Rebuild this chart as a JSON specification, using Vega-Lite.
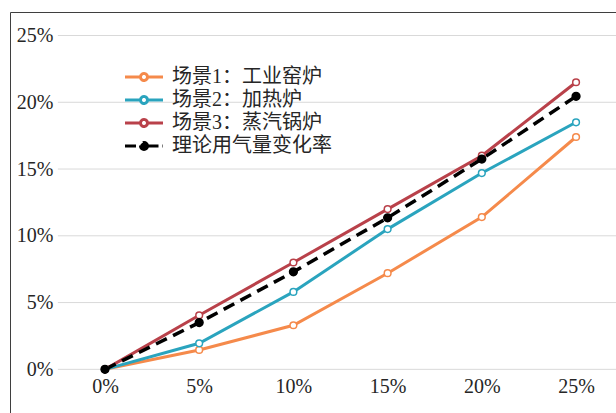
{
  "$schema": "https://vega.github.io/schema/vega-lite/v6.json",
  "width": 606,
  "height": 401,
  "autosize": {"type": "none"},
  "padding": {"left": 10, "top": 12, "right": 0, "bottom": 0},
  "background": "white",
  "config": {
    "view": {"stroke": "#3f3f3f", "strokeWidth": 1},
    "font": "'Liberation Serif', 'Noto Sans CJK SC', serif"
  },
  "datasets": {
    "series": [
      {"x": 0, "y": 0, "s": "场景1：工业窑炉"},
      {"x": 5, "y": 1.45, "s": "场景1：工业窑炉"},
      {"x": 10, "y": 3.3, "s": "场景1：工业窑炉"},
      {"x": 15, "y": 7.2, "s": "场景1：工业窑炉"},
      {"x": 20, "y": 11.4, "s": "场景1：工业窑炉"},
      {"x": 25, "y": 17.4, "s": "场景1：工业窑炉"},
      {"x": 0, "y": 0, "s": "场景2：加热炉"},
      {"x": 5, "y": 1.95, "s": "场景2：加热炉"},
      {"x": 10, "y": 5.8, "s": "场景2：加热炉"},
      {"x": 15, "y": 10.5, "s": "场景2：加热炉"},
      {"x": 20, "y": 14.7, "s": "场景2：加热炉"},
      {"x": 25, "y": 18.5, "s": "场景2：加热炉"},
      {"x": 0, "y": 0, "s": "场景3：蒸汽锅炉"},
      {"x": 5, "y": 4.05, "s": "场景3：蒸汽锅炉"},
      {"x": 10, "y": 8.0, "s": "场景3：蒸汽锅炉"},
      {"x": 15, "y": 12.0, "s": "场景3：蒸汽锅炉"},
      {"x": 20, "y": 16.0, "s": "场景3：蒸汽锅炉"},
      {"x": 25, "y": 21.5, "s": "场景3：蒸汽锅炉"},
      {"x": 0, "y": 0, "s": "理论用气量变化率"},
      {"x": 5, "y": 3.5, "s": "理论用气量变化率"},
      {"x": 10, "y": 7.3, "s": "理论用气量变化率"},
      {"x": 15, "y": 11.35, "s": "理论用气量变化率"},
      {"x": 20, "y": 15.75, "s": "理论用气量变化率"},
      {"x": 25, "y": 20.45, "s": "理论用气量变化率"}
    ],
    "grid": [{"g": 0}, {"g": 5}, {"g": 10}, {"g": 15}, {"g": 20}, {"g": 25}]
  },
  "layer": [
    {
      "data": {"name": "grid"},
      "mark": {"type": "rule", "color": "#d9d9d9", "strokeWidth": 1},
      "encoding": {
        "y": {
          "field": "g", "type": "quantitative",
          "scale": {"domain": [-3.27, 26.76], "nice": false, "zero": false},
          "axis": {
            "values": [0, 5, 10, 15, 20, 25],
            "labelExpr": "datum.value + '%'",
            "domain": false, "ticks": false, "tickSize": 0, "grid": false,
            "labelPadding": -43, "labelFontSize": 20, "labelColor": "#262626",
            "labelFont": "'Liberation Serif', 'Times New Roman', serif", "title": null
          }
        },
        "x": {
          "datum": -2.5, "type": "quantitative",
          "scale": {"domain": [-5.04, 27.12], "nice": false, "zero": false},
          "axis": {
            "values": [0, 5, 10, 15, 20, 25],
            "labelExpr": "datum.value + '%'",
            "domain": false, "ticks": false, "tickSize": 0, "grid": false,
            "labelPadding": -37, "labelFontSize": 20, "labelColor": "#262626",
            "labelFont": "'Liberation Serif', 'Times New Roman', serif", "title": null
          }
        },
        "x2": {"datum": 30}
      }
    },
    {
      "data": {"name": "series"},
      "transform": [{"filter": "datum.s !== '理论用气量变化率'"}],
      "mark": {"type": "line", "strokeWidth": 3},
      "encoding": {
        "x": {"field": "x", "type": "quantitative"},
        "y": {"field": "y", "type": "quantitative"},
        "color": {
          "field": "s", "type": "nominal",
          "scale": {
            "domain": ["场景1：工业窑炉", "场景2：加热炉", "场景3：蒸汽锅炉", "理论用气量变化率"],
            "range": ["#f58a4b", "#2aa4be", "#b9414a", "#000000"]
          },
          "legend": {
            "orient": "none", "legendX": 124, "legendY": 55, "title": null,
            "padding": 0,
            "symbolType": "M-3.8,0L-0.7,0M0.7,0L3.8,0M0.7,0A0.7,0.7,0,1,1,-0.7,0A0.7,0.7,0,1,1,0.7,0",
            "symbolSize": 100, "symbolStrokeWidth": 3, "symbolFillColor": "white",
            "labelFont": "'Liberation Serif', 'Noto Sans CJK SC', serif", "labelFontSize": 20,
            "labelColor": "#262626", "labelOffset": 18, "rowPadding": 3,
            "labelLimit": 400,
            "encode": {
              "symbols": {
                "update": {
                  "fill": {"signal": "datum.value === '理论用气量变化率' ? '#000000' : '#ffffff'"},
                  "strokeDash": {"signal": "datum.value === '理论用气量变化率' ? [11, 4] : [1, 0]"}
                }
              }
            }
          }
        }
      }
    },
    {
      "data": {"name": "series"},
      "transform": [{"filter": "datum.s === '理论用气量变化率'"}],
      "mark": {"type": "line", "strokeWidth": 3.5, "strokeDash": [12, 7]},
      "encoding": {
        "x": {"field": "x", "type": "quantitative"},
        "y": {"field": "y", "type": "quantitative"},
        "color": {"field": "s", "type": "nominal"}
      }
    },
    {
      "data": {"name": "series"},
      "mark": {"type": "point", "shape": "circle", "filled": true, "opacity": 1, "strokeWidth": 1.5},
      "encoding": {
        "x": {"field": "x", "type": "quantitative"},
        "y": {"field": "y", "type": "quantitative"},
        "stroke": {
          "field": "s", "type": "nominal",
          "scale": {
            "domain": ["场景1：工业窑炉", "场景2：加热炉", "场景3：蒸汽锅炉", "理论用气量变化率"],
            "range": ["#f58a4b", "#2aa4be", "#b9414a", "#000000"]
          },
          "legend": null
        },
        "fill": {
          "condition": {"test": "datum.s === '理论用气量变化率'", "value": "#000000"},
          "value": "#ffffff"
        },
        "size": {
          "condition": {"test": "datum.s === '理论用气量变化率'", "value": 60},
          "value": 45
        }
      }
    }
  ]
}
